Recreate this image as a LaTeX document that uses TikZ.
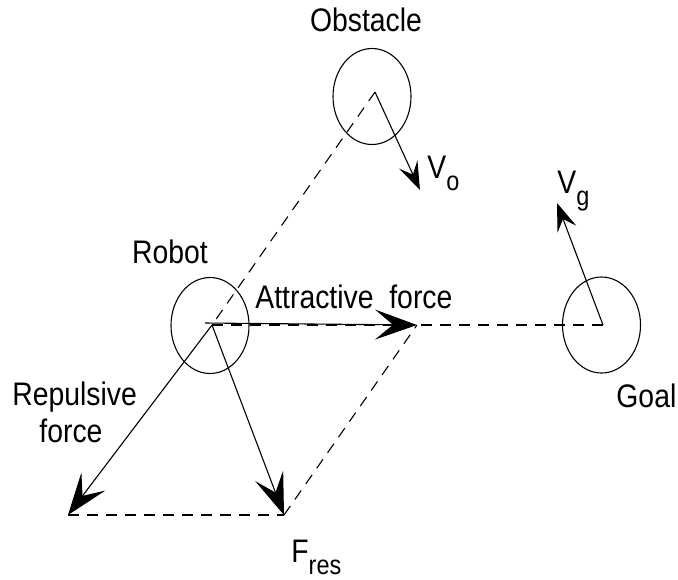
\documentclass[tikz,border=0pt]{standalone}
\usepackage{fontspec}
\setmainfont{Liberation Sans}[FakeStretch=0.87]
\usetikzlibrary{arrows.meta,shapes.geometric}
\newcommand{\lowsub}[1]{\raisebox{-0.7ex}{\fontsize{13.5}{15}\selectfont #1}}
\begin{document}
\begin{tikzpicture}[x=0.5pt,y=-0.5pt, font=\fontsize{16.3}{18}\selectfont,
  lbl/.style={inner sep=0pt},
  body/.style={draw, ellipse, line width=0.55pt, minimum width=39pt, minimum height=48pt, inner sep=0pt},
  vec/.style={line width=0.55pt, -{Stealth[length=21pt,width=15pt,inset=9pt]}},
  vecs/.style={line width=0.55pt, -{Stealth[length=14pt,width=10pt,inset=5.5pt]}},
  guide/.style={line width=0.55pt, dash pattern=on 5.5pt off 4pt}]
\useasboundingbox (0,0) rectangle (678,579);
\node[body] (obsc) at (372,96.5) {};
\node[body] (robc) at (210,325.5) {};
\node[body] (goalc) at (601.5,325) {};
\coordinate (obs) at (375,92);
\coordinate (rob) at (212,325);
\coordinate (goal) at (603,325);
\coordinate (att) at (417,325);
\coordinate (attS) at (205,323);
\coordinate (rep) at (68,515);
\coordinate (fres) at (284,515);
\coordinate (vo) at (420,190);
\coordinate (vg) at (557,203);
\draw[guide] (obs) -- (rob);
\draw[guide] (rob) -- (goal);
\draw[guide] (rep) -- (fres);
\draw[guide] (fres) -- (att);
\draw[vec] (attS) -- (att);
\draw[vec] (rob) -- (rep);
\draw[vec] (rob) -- (fres);
\draw[vecs] (obs) -- (vo);
\draw[vecs] (goal) -- (vg);
\node[lbl, anchor=base] (tobs) at (366,31) {Obstacle};
\node[lbl, anchor=base] (trob) at (170,263) {Robot};
\node[lbl, anchor=base west] (tatt) at (255,308) {Attractive\ \ force};
\node[lbl, anchor=base west] (trep1) at (12,405) {Repulsive};
\node[lbl, anchor=base west] (trep2) at (39,442) {force};
\node[lbl, anchor=base west] (tgoal) at (616,407) {Goal};
\node[lbl, anchor=base west] (tfres) at (291,562) {F\lowsub{res}};
\node[lbl, anchor=base west] (tvo) at (427,178) {V\lowsub{o}};
\node[lbl, anchor=base west] (tvg) at (557,193) {V\lowsub{g}};
\end{tikzpicture}
\end{document}
